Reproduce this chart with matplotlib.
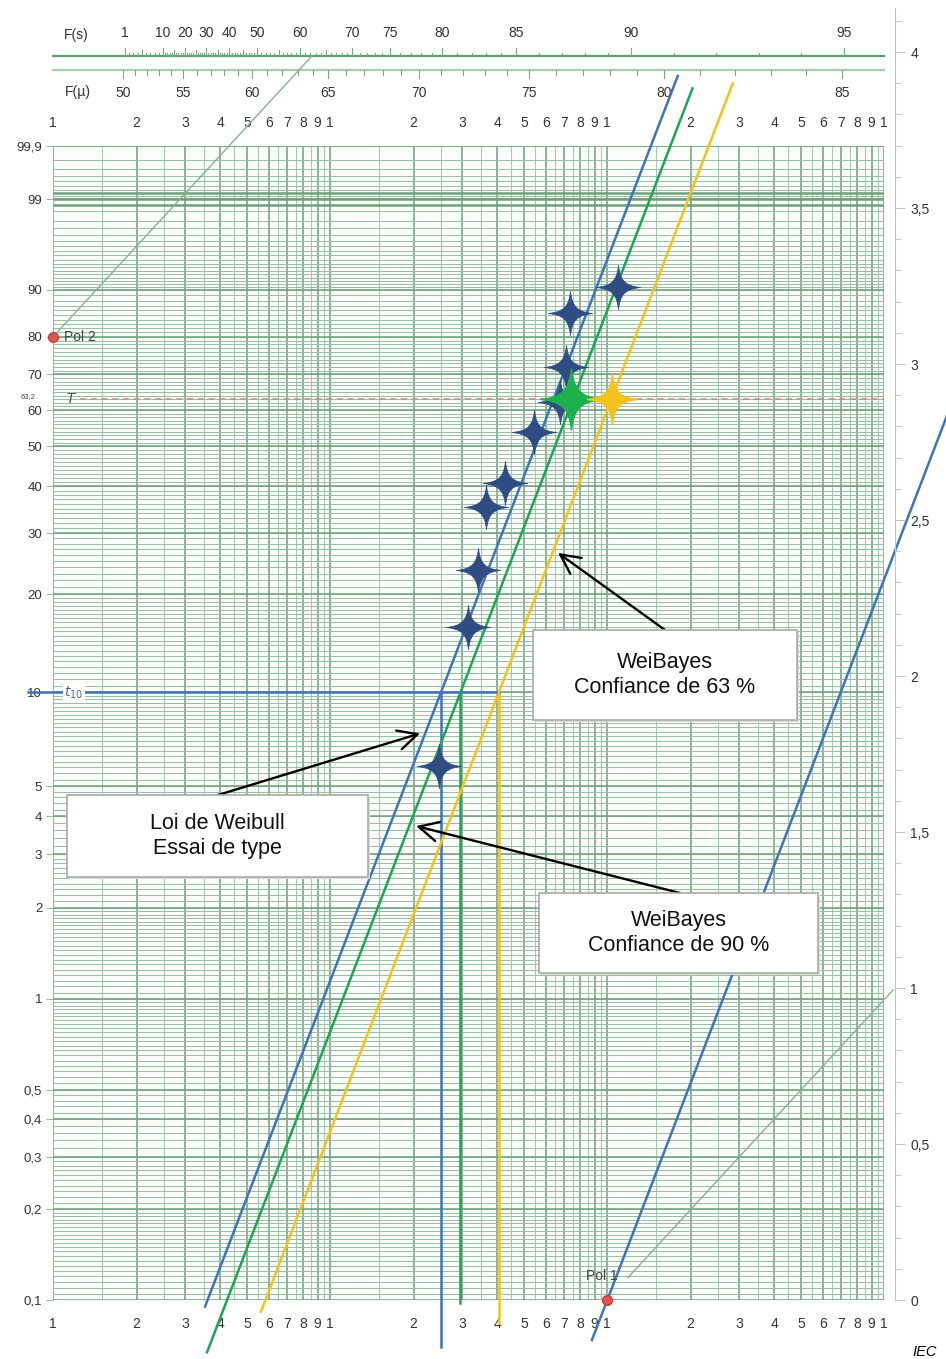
import numpy as np
import matplotlib.pyplot as plt
from matplotlib.path import Path
from matplotlib.patches import Rectangle
from matplotlib import transforms
from matplotlib.ticker import NullLocator

plt.rcParams['font.family'] = ['Liberation Sans', 'DejaVu Sans']

# ---- values ----
beta = 2.4
eta = [64.1, 75.4, 103.7]          # Weibull fit, WeiBayes 63 %, WeiBayes 90 %
x_from = [3.53, 3.59, 5.62]
x_to = [179.6, 203.0, 283.6]
t10 = [25.1, 29.5, 40.6]
t10_low = [0.07, 0.098, 0.084]     # where the t10 drop lines stop
line_colors = ['#3f74b8', '#1ea553', '#f4c21b']

fail_t = [24.7, 31.4, 34.1, 36.5, 42.7, 54.4, 67.5, 70.9, 73.3, 109.0]
fail_F = [5.8, 16.0, 23.6, 35.3, 40.8, 53.9, 62.2, 72.0, 85.4, 90.5]
bayes_eta = [74.0, 104.0]          # WeiBayes points at 63,2 %

pol1_x, pol1_F = 100, 0.1
pol2_x, pol2_F = 1, 80

fs_vals = [1, 10, 20, 30, 40, 50, 60, 70, 75, 80, 85, 90, 95]
fs_x = [1.815, 2.489, 2.989, 3.558, 4.309, 5.438, 7.776, 11.98, 16.43, 25.31, 46.82, 121.8, 715.4]
fmu_vals = [50, 55, 60, 65, 70, 75, 80, 85]
fmu_x = [1.785, 2.939, 5.216, 9.81, 20.90, 52.16, 160.2, 703.6]

F_ticks = [0.1, 0.2, 0.3, 0.4, 0.5, 1, 2, 3, 4, 5, 10, 20, 30, 40, 50, 60, 70, 80, 90, 99, 99.9]
F_labels = ['0,1', '0,2', '0,3', '0,4', '0,5', '1', '2', '3', '4', '5', '10', '20', '30',
            '40', '50', '60', '70', '80', '90', '99', '99,9']
slope_ticks = [0, 0.5, 1, 1.5, 2, 2.5, 3, 3.5, 4]
slope_labels = ['0', '0,5', '1', '1,5', '2', '2,5', '3', '3,5', '4']

W, H = 946, 1359
fig = plt.figure(figsize=(W / 100, H / 100), dpi=100)


def fx(px):
    return px / W


def fy(py):
    return 1 - py / H


def fwd(F):
    F = np.clip(np.asarray(F, dtype=float), 1e-9, 100 - 1e-11)
    return np.log(-np.log1p(-F / 100))


def inv(v):
    return -100 * np.expm1(-np.exp(np.asarray(v, dtype=float)))


ax = fig.add_axes([fx(53.3), fy(1300), fx(884.3) - fx(53.3), fy(146.4) - fy(1300)])
ax.set_xscale('log')
ax.set_yscale('function', functions=(fwd, inv))
ax.set_facecolor('#fbfdfb')
for s in ax.spines.values():
    s.set_visible(False)

# grid of the probability paper
vx = [m * 10 ** d for d in range(3) for m in np.arange(1, 10, 0.5)] + [1000]
for v in vx:
    whole = abs(v / 10 ** np.floor(np.log10(v)) - round(v / 10 ** np.floor(np.log10(v)))) < 1e-9
    ax.vlines(v, 0.1, 99.9, colors='#6f9f7d' if whole else '#a9c8b2',
              lw=1.1 if whole else 0.8, zorder=1)
hF = np.concatenate([np.arange(0.1, 0.2, 0.005), np.arange(0.2, 0.3, 0.01),
                     np.arange(0.3, 0.5, 0.02), np.arange(0.5, 1, 0.025),
                     np.arange(1, 2, 0.05), np.arange(2, 3, 0.1), np.arange(3, 5, 0.2),
                     np.arange(5, 10, 0.25), np.arange(10, 20, 0.5), np.arange(20, 90, 1),
                     np.arange(90, 99, 0.5), np.arange(99, 99.95, 0.1)])
ax.hlines(hF, 1, 1000, colors='#98bda2', lw=0.7, zorder=1)
ax.hlines(F_ticks, 1, 1000, colors='#6f9f7d', lw=1.1, zorder=1)
ax.hlines([98.8, 99, 99.2], 1, 1000, colors='#6f9f7d', lw=1.8, zorder=1)

# 63,2 % line
ax.plot([1.25, 1000], [63.2, 63.2], color='#d98575', lw=1.1, dashes=(4, 3), zorder=2)

# Weibull and WeiBayes lines
for e, a, b, c, t, lo in zip(eta, x_from, x_to, line_colors, t10, t10_low):
    xs = np.array([a, b])
    ax.plot(xs, inv(beta * np.log(xs / e)), color=c, lw=1.8, clip_on=False, zorder=4)
    ax.plot([t, t], [10, lo], color=c, lw=1.8, clip_on=False, zorder=3)
ax.plot([0.81, t10[2]], [10, 10], color=line_colors[0], lw=1.8, clip_on=False, zorder=3)

# pole constructions
v1 = fwd(pol1_F)
v2 = fwd(pol2_F)
xa = np.array([88.0, 1700.0])
ax.plot(xa, inv(v1 + beta * np.log(xa / pol1_x)), color=line_colors[0], lw=1.8,
        clip_on=False, zorder=4)
xb = np.array([118.8, 1075.0])
ax.plot(xb, inv(v1 + np.log(xb / pol1_x)), color='#86b293', lw=1.0, clip_on=False, zorder=3)
xc = np.array([pol2_x, 8.58])
ax.plot(xc, inv(v2 + np.log(xc / pol2_x)), color='#86b293', lw=1.0, clip_on=False, zorder=3)
ax.plot([pol1_x, pol2_x], [pol1_F, pol2_F], ls='none', marker='o', ms=7,
        mfc='#e2554e', mec='#c43d37', clip_on=False, zorder=6)

# four-pointed star marker
c1, c2 = 0.08, 0.3
verts = [(0, 1), (c1, c2), (c2, c1), (1, 0), (c2, -c1), (c1, -c2), (0, -1),
         (-c1, -c2), (-c2, -c1), (-1, 0), (-c2, c1), (-c1, c2), (0, 1), (0, 1)]
codes = [Path.MOVETO] + [Path.CURVE4] * 12 + [Path.CLOSEPOLY]
star = Path(verts, codes)

ax.plot(fail_t, fail_F, ls='none', marker=star, ms=32, mfc='#2f4d82', mec='#2f4d82',
        mew=0.5, zorder=5, clip_on=False)
ax.plot(bayes_eta[0], 63.2, marker=star, ms=44, mfc='#1db04c', mec='#1db04c', zorder=6)
ax.plot(bayes_eta[1], 63.2, marker=star, ms=36, mfc='#f6c11c', mec='#f6c11c', zorder=6)

ax.set_xlim(1, 1000)
ax.set_ylim(0.1, 99.9)

xt = [m * 10 ** d for d in range(3) for m in range(1, 10)] + [1000]
ax.set_xticks(xt)
ax.set_xticklabels([str(int(round(v / 10 ** np.floor(np.log10(v) + 1e-9)))) for v in xt])
ax.xaxis.set_minor_locator(NullLocator())
ax.tick_params(axis='x', which='both', length=0, pad=12, labelsize=10, labelcolor='#333333',
               top=True, labeltop=True)
ax.set_yticks(F_ticks)
ax.set_yticklabels(F_labels)
ax.yaxis.set_minor_locator(NullLocator())
ax.tick_params(axis='y', length=5, width=0.8, color='#9ab8a3', pad=3, labelsize=9.5,
               labelcolor='#333333')

# small texts on the grid
fig.text(fx(28), fy(397), '63,2', fontsize=5.5, ha='center', va='center', color='#444444')
fig.text(fx(70), fy(399), 'T', fontsize=11, style='italic', ha='center', va='center',
         color='#555555')
fig.text(fx(74), fy(693), r'$t_{10}$', fontsize=10, ha='center', va='center', color='#556677',
         bbox=dict(boxstyle='square,pad=0.1', fc='white', ec='none'))
fig.text(fx(64), fy(337), 'Pol 2', fontsize=10, ha='left', va='center', color='#444444')
fig.text(fx(602), fy(1276), 'Pol 1', fontsize=10, ha='center', va='center', color='#444444')

# top scales F(s) and F(mu)
top = transforms.blended_transform_factory(ax.transData, fig.transFigure)
ax.plot([1, 1000], [fy(56), fy(56)], color='#5a9e6e', lw=1.6, transform=top, clip_on=False)
ax.plot([1, 1000], [fy(70), fy(70)], color='#a8cdb2', lw=1.6, transform=top, clip_on=False)
fs_minor = np.arange(1, 96)
fs_pos = 10 ** np.interp(fs_minor, fs_vals, np.log10(fs_x))
for v, p in zip(fs_minor, fs_pos):
    h = 8 if v in fs_vals else (6 if v % 5 == 0 else 3.5)
    ax.plot([p, p], [fy(56), fy(56 - h)], color='#7aa887', lw=0.8, transform=top, clip_on=False)
fmu_minor = np.arange(50, 86)
fmu_pos = 10 ** np.interp(fmu_minor, fmu_vals, np.log10(fmu_x))
for v, p in zip(fmu_minor, fmu_pos):
    h = 8 if v in fmu_vals else 4.5
    ax.plot([p, p], [fy(70), fy(70 + h)], color='#7aa887', lw=0.8, transform=top, clip_on=False)
for v, p in zip(fs_vals, fs_x):
    ax.text(p, fy(33), str(v), transform=top, ha='center', va='center', fontsize=10,
            color='#333333')
for v, p in zip(fmu_vals, fmu_x):
    ax.text(p, fy(93), str(v), transform=top, ha='center', va='center', fontsize=10,
            color='#333333')
fig.text(fx(76), fy(35), 'F(s)', fontsize=10, ha='center', va='center', color='#333333')
fig.text(fx(78), fy(92), 'F(\u00b5)', fontsize=10, ha='center', va='center', color='#333333')

# slope scale on the right
axb = fig.add_axes([fx(895) - 0.0005, fy(1300), 0.0005, fy(8) - fy(1300)])
axb.set_ylim(0, 1292 / 312)
for k in ['left', 'top', 'bottom']:
    axb.spines[k].set_visible(False)
axb.spines['right'].set_color('#b3cbb9')
axb.xaxis.set_visible(False)
axb.yaxis.tick_right()
axb.set_yticks(slope_ticks)
axb.set_yticklabels(slope_labels)
axb.set_yticks(np.arange(0, 4.15, 0.1), minor=True)
axb.tick_params(axis='y', which='major', length=7, color='#b3cbb9', pad=4, labelsize=10,
                labelcolor='#333333')
axb.tick_params(axis='y', which='minor', length=4, color='#b3cbb9')

# explanation boxes with arrows
boxes = [((533, 630, 797, 720), 'WeiBayes\nConfiance de 63 %', (665, 630), (66.4, 26.4)),
         ((67, 795, 368, 877), 'Loi de Weibull\nEssai de type', (218, 795), (21.1, 7.4)),
         ((539, 893, 818, 973), 'WeiBayes\nConfiance de 90 %', (680, 893), (20.4, 3.71))]
for (l, t, r, b), txt, start, target in boxes:
    fig.patches.append(Rectangle((fx(l + 2), fy(b + 2)), fx(r) - fx(l), fy(t) - fy(b),
                                 transform=fig.transFigure, fc='#d8ddd8', ec='none', zorder=7))
    fig.patches.append(Rectangle((fx(l), fy(b)), fx(r) - fx(l), fy(t) - fy(b),
                                 transform=fig.transFigure, fc='white', ec='#aaaaaa',
                                 lw=1.2, zorder=8))
    fig.text(fx((l + r) / 2), fy((t + b) / 2), txt, ha='center', va='center', fontsize=15.5,
             linespacing=1.25, color='#111111', zorder=9)
    ax.annotate('', xy=target, xycoords='data', xytext=(fx(start[0]), fy(start[1])),
                textcoords='figure fraction',
                arrowprops=dict(arrowstyle='->,head_length=0.7,head_width=0.35',
                                mutation_scale=20, lw=1.7, color='black',
                                shrinkA=0, shrinkB=0),
                annotation_clip=False, zorder=10)

fig.text(fx(925), fy(1352), 'IEC', fontsize=10.5, style='italic', ha='center', va='center')

fig.savefig('out.png', dpi=100)
